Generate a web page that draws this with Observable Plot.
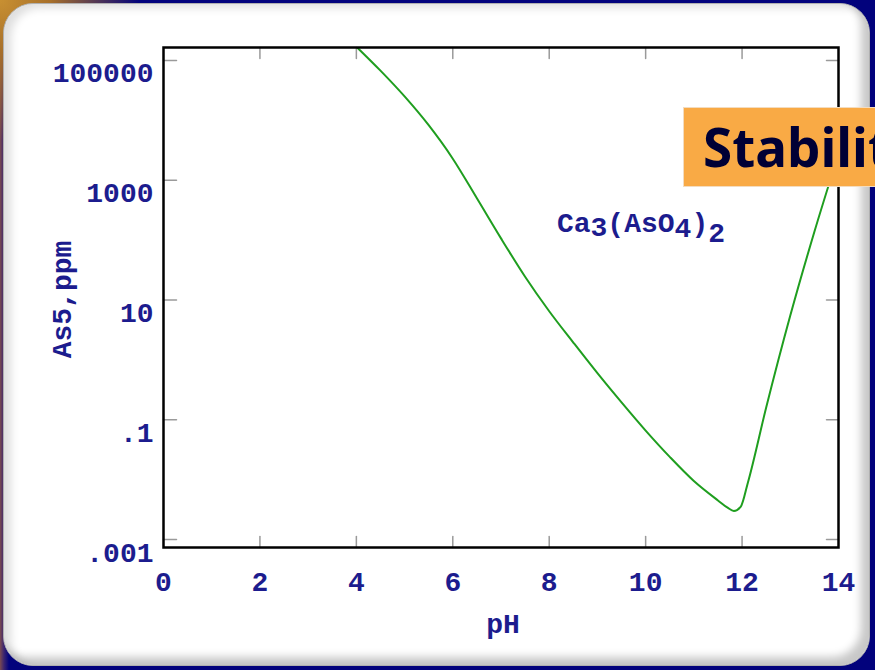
<!DOCTYPE html>
<html>
<head>
<meta charset="utf-8">
<script src="https://cdn.jsdelivr.net/npm/d3@7"></script>
<script src="https://cdn.jsdelivr.net/npm/@observablehq/plot@0.6"></script>
<style>
html, body { margin: 0; padding: 0; width: 875px; height: 670px; overflow: hidden; }
body {
  background:
    radial-gradient(circle at 0 0, #c89032 0, #a8702a 50px, rgba(120,60,60,0) 140px),
    linear-gradient(90deg, #7a4a50 0, #3a2470 4px, #02027c 9px);
}
#stage { position: relative; width: 875px; height: 670px; }
#panel {
  position: absolute; left: 3px; top: 3px; width: 867px; height: 663px;
  border-radius: 30px; background: #fff; border: 1px solid #b0b0b0; box-sizing: border-box;
  box-shadow: inset 7px 4px 8px rgba(0,0,0,0.13), inset -8px -8px 9px rgba(0,0,0,0.22);
}
#chart { position: absolute; left: 0; top: 0; }
#tag {
  position: absolute; left: 683px; top: 107px; width: 260px; height: 80px;
  background: #f9aa45; border: 1px solid #f3dcc0; box-sizing: border-box;
  font: bold 53px "Noto Sans", sans-serif; color: #000035;
  padding-left: 19px; line-height: 78px; white-space: nowrap;
}
</style>
</head>
<body>
<div id="stage">
  <div id="panel"></div>
  <div id="chart"></div>
  <div id="tag">Stability</div>
</div>
<script>
// ---- data ----
const pH  = [4.0, 4.5, 5.0, 5.5, 6.0, 6.5, 7.0, 7.5, 8.0, 8.5, 9.0, 9.5, 10.0, 10.5, 11.0, 11.5, 11.7, 11.83, 11.97, 12.12, 12.5, 13.0, 13.5, 14.0];
const as5 = [170000, 67600, 25100, 8300, 2290, 500, 107, 24.5, 6.5, 1.95, 0.60, 0.195, 0.066, 0.024, 0.0095, 0.0045, 0.0034, 0.0030, 0.0035, 0.0089, 0.16, 5.5, 138, 2750];

const xTicks = [0, 2, 4, 6, 8, 10, 12, 14];
const xInnerTicks = [2, 4, 6, 8, 10, 12];
const yTicks = [100000, 1000, 10, 0.1, 0.001];
const yTickLabels = ["100000", "1000", "10", ".1", ".001"];
const xDomain = [0, 14];
const yDomain = [Math.pow(10, -3.133), Math.pow(10, 5.217)];
const xLabel = "pH";
const yLabel = "As5,ppm";
const mineralLabel = "Ca3(AsO4)2";
const mineral = [{pH: 8.16, ppm: 192, label: mineralLabel}];
const mineralParts = [["Ca", 0], ["3", 4], ["(AsO", -4], ["4", 5], [")", -5], ["2", 10]];

const data = pH.map((x, i) => ({pH: x, ppm: as5[i]}));
const textColor = "#1c1c8e";
const tickShape = {draw(ctx, l) { ctx.moveTo(0, 0); ctx.lineTo(0, -l); }};

const chart = Plot.plot({
  width: 875, height: 670,
  marginLeft: 163, marginRight: 37, marginTop: 47, marginBottom: 123,
  style: {
    background: "transparent", overflow: "visible",
    fontFamily: "'Liberation Mono', 'DejaVu Sans Mono', monospace",
    fontSize: "28px", fontWeight: "bold", color: textColor
  },
  x: {domain: xDomain},
  y: {type: "log", domain: yDomain},
  marks: [
    // inner grey ticks
    Plot.vector(yTicks, {x: () => xDomain[0], y: d => d, rotate: 90, length: 13, anchor: "start", shape: tickShape, stroke: "#9a9a9a", strokeWidth: 1.5}),
    Plot.vector(yTicks, {x: () => xDomain[1], y: d => d, rotate: -90, length: 12, anchor: "start", shape: tickShape, stroke: "#9a9a9a", strokeWidth: 1.5}),
    Plot.vector(xInnerTicks, {x: d => d, y: () => yDomain[1], rotate: 180, length: 11, anchor: "start", shape: tickShape, stroke: "#9a9a9a", strokeWidth: 1.5}),
    Plot.vector(xInnerTicks, {x: d => d, y: () => yDomain[0], rotate: 0, length: 11, anchor: "start", shape: tickShape, stroke: "#9a9a9a", strokeWidth: 1.5}),
    // tick labels
    Plot.axisY(yTicks, {anchor: "left", tickSize: 0, tickPadding: 10, dy: 13, tickFormat: d => yTickLabels[yTicks.indexOf(d)], label: null}),
    Plot.axisX(xTicks, {anchor: "bottom", tickSize: 0, tickPadding: 24, tickFormat: d => String(d), label: null}),
    // curve
    Plot.line(data, {x: "pH", y: "ppm", stroke: "#1f9e1f", strokeWidth: 2, curve: "monotone-x", clip: true}),
    Plot.frame({stroke: "black", strokeWidth: 2.5}),
    // labels
    Plot.text([yLabel], {text: d => d, frameAnchor: "left", textAnchor: "middle", lineAnchor: "middle", dx: -101, dy: 2, rotate: -90, fill: textColor}),
    Plot.text([xLabel], {text: d => d, frameAnchor: "bottom", textAnchor: "middle", lineAnchor: "middle", dx: 2, dy: 77, fill: textColor}),
    Plot.text(mineral, {x: "pH", y: "ppm", text: "label", textAnchor: "start", fill: textColor})
  ]
});

d3.select(chart).selectAll("text")
  .filter(function() { return this.textContent === mineralLabel; })
  .each(function() {
    const t = d3.select(this);
    t.text(null);
    mineralParts.forEach(([s, dy], i) => {
      const sp = t.append("tspan").text(s);
      if (i > 0) sp.attr("dy", dy);
    });
  });

document.getElementById("chart").appendChild(chart);
</script>
</body>
</html>
